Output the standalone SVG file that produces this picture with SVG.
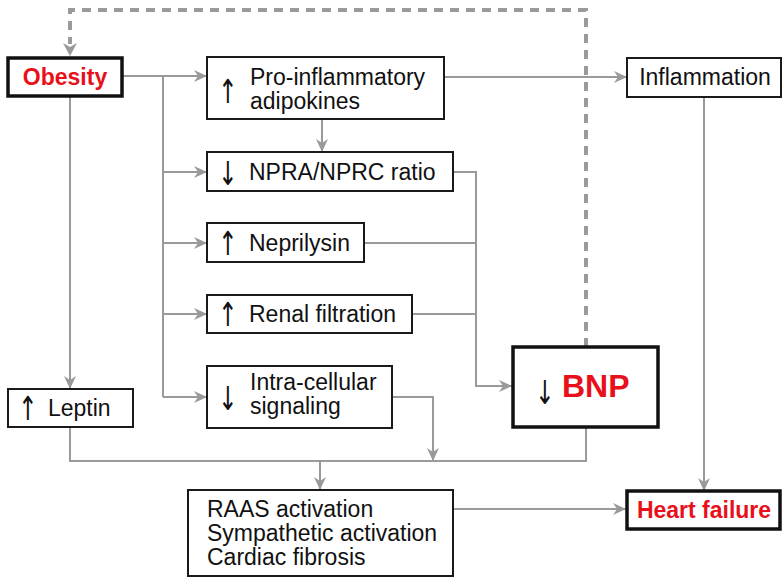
<svg xmlns="http://www.w3.org/2000/svg" width="782" height="579" viewBox="0 0 782 579">
<defs>
<marker id="ah" markerUnits="userSpaceOnUse" markerWidth="14" markerHeight="14" refX="13" refY="7" orient="auto">
<path d="M0,1 L13,7 L0,13 L4,7 z" fill="#9a9a9a"/>
</marker>
</defs>
<style>
.bx{fill:#fff;stroke:#1a1a1a;stroke-width:2}
.bk{fill:#fff;stroke:#111;stroke-width:3.5}
.t{font-family:"Liberation Sans",Arial,sans-serif;font-size:23px;fill:#111}
.r{font-family:"Liberation Sans",Arial,sans-serif;font-weight:bold;fill:#e8101a}
.ar{font-family:"DejaVu Sans",sans-serif;font-size:33px;fill:#111}
.c{fill:none;stroke:#9a9a9a;stroke-width:2}
.ca{fill:none;stroke:#9a9a9a;stroke-width:2;marker-end:url(#ah)}
.d{fill:none;stroke:#9a9a9a;stroke-width:4;stroke-dasharray:9 7}
</style>
<rect width="782" height="579" fill="#fff"/>
<g id="connectors">
<path class="d" d="M586,347 V10 H70 V44"/>
<path d="M63,43 L70,56 L77,43 L70,47 z" fill="#9a9a9a"/>
<path class="ca" d="M123,76 H207"/>
<path class="c" d="M163,76 V397"/>
<path class="ca" d="M163,172 H207"/>
<path class="ca" d="M163,243 H207"/>
<path class="ca" d="M163,314 H207"/>
<path class="ca" d="M163,397 H207"/>
<path class="ca" d="M322,119 V152"/>
<path class="ca" d="M444,77 H627"/>
<path class="ca" d="M70,97 V389"/>
<path class="ca" d="M453,172 H476 V386 H512"/>
<path class="c" d="M364,243 H476"/>
<path class="c" d="M412,314 H476"/>
<path class="ca" d="M392,397 H433 V461"/>
<path class="c" d="M70,427 V461 H586 V427"/>
<path class="ca" d="M320,461 V490"/>
<path class="ca" d="M453,509 H626"/>
<path class="ca" d="M704,97 V491"/>
</g>
<g id="obesity">
<rect class="bk" x="8" y="58" width="114" height="38"/>
<text class="r" x="65" y="85" font-size="23" text-anchor="middle">Obesity</text>
</g>
<g id="proinflammatory">
<rect class="bx" x="207" y="57" width="237" height="62"/>
<text class="ar" transform="translate(228,103) scale(0.7,1)" text-anchor="middle">↑</text>
<text class="t" x="250" y="85">Pro-inflammatory</text>
<text class="t" x="250" y="109">adipokines</text>
</g>
<g id="npra">
<rect class="bx" x="207" y="152" width="246" height="39"/>
<text class="ar" transform="translate(228,185) scale(0.7,1)" text-anchor="middle">↓</text>
<text class="t" x="249" y="180">NPRA/NPRC ratio</text>
</g>
<g id="neprilysin">
<rect class="bx" x="207" y="223" width="157" height="39"/>
<text class="ar" transform="translate(228,255) scale(0.7,1)" text-anchor="middle">↑</text>
<text class="t" x="249" y="251">Neprilysin</text>
</g>
<g id="renal">
<rect class="bx" x="207" y="295" width="205" height="38"/>
<text class="ar" transform="translate(228,326) scale(0.7,1)" text-anchor="middle">↑</text>
<text class="t" x="249" y="322">Renal filtration</text>
</g>
<g id="intracellular">
<rect class="bx" x="207" y="366" width="185" height="62"/>
<text class="ar" transform="translate(228,410) scale(0.7,1)" text-anchor="middle">↓</text>
<text class="t" x="250" y="390">Intra-cellular</text>
<text class="t" x="250" y="414">signaling</text>
</g>
<g id="leptin">
<rect class="bx" x="8" y="389" width="125" height="38"/>
<text class="ar" transform="translate(28,420) scale(0.7,1)" text-anchor="middle">↑</text>
<text class="t" x="48" y="416">Leptin</text>
</g>
<g id="bnp">
<rect class="bk" x="513" y="347" width="145" height="80"/>
<text class="ar" transform="translate(545,404) scale(0.7,1)" text-anchor="middle">↓</text>
<text class="r" x="562" y="397" font-size="32">BNP</text>
</g>
<g id="inflammation">
<rect class="bx" x="627" y="58" width="154" height="39"/>
<text class="t" x="705" y="85" text-anchor="middle">Inflammation</text>
</g>
<g id="raas">
<rect class="bx" x="188" y="490" width="265" height="86"/>
<text class="t" x="207" y="517">RAAS activation</text>
<text class="t" x="207" y="541">Sympathetic activation</text>
<text class="t" x="207" y="565">Cardiac fibrosis</text>
</g>
<g id="heartfailure">
<rect class="bk" x="627" y="491" width="153" height="38"/>
<text class="r" x="704" y="518" font-size="23" text-anchor="middle">Heart failure</text>
</g>
</svg>
